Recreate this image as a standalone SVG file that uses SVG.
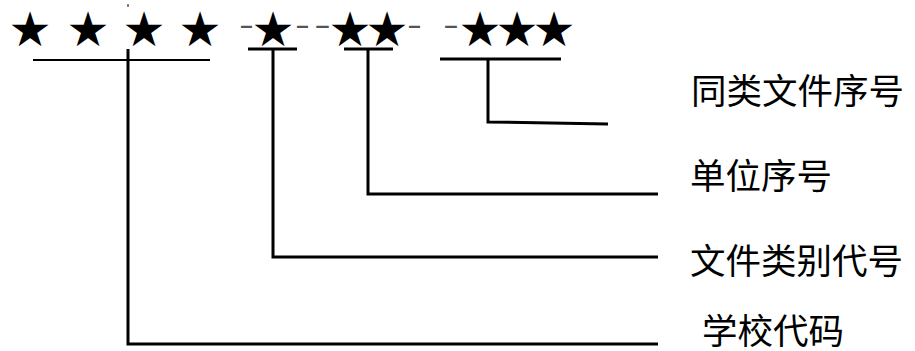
<svg xmlns="http://www.w3.org/2000/svg" width="915" height="351" viewBox="0 0 915 351">
<style>
.star{font-family:"DejaVu Sans",sans-serif;font-size:48px;fill:#000;text-anchor:middle}
.dash{font-family:"Liberation Sans",sans-serif;font-size:30px;fill:#555}
.lbl{font-family:"Liberation Serif","Noto Sans CJK SC",serif;font-size:35.5px;fill:#000}
.ln{fill:none;stroke:#000;stroke-width:3}
</style>
<rect width="915" height="351" fill="#fff"/>
<g id="code">
<text class="star" x="30" y="46">★</text>
<text class="star" x="88" y="46">★</text>
<text class="star" x="144" y="46">★</text>
<text class="star" x="200" y="46">★</text>
<text class="dash" x="239" y="35" textLength="15" lengthAdjust="spacingAndGlyphs">-</text>
<text class="star" x="273" y="46">★</text>
<text class="dash" x="295" y="35" textLength="15" lengthAdjust="spacingAndGlyphs">-</text>
<text class="dash" x="314" y="35" textLength="17" lengthAdjust="spacingAndGlyphs">-</text>
<text class="star" x="350" y="46">★</text>
<text class="star" x="387" y="46">★</text>
<text class="dash" x="407" y="35" textLength="15" lengthAdjust="spacingAndGlyphs">-</text>
<text class="dash" x="443" y="35" textLength="16" lengthAdjust="spacingAndGlyphs">-</text>
<text class="star" x="480" y="46">★</text>
<text class="star" x="517" y="46">★</text>
<text class="star" x="554" y="46">★</text>
</g>
<g id="label-seq"><text class="lbl" x="691" y="104">同类文件序号</text></g>
<g id="label-unit"><text class="lbl" x="690" y="189">单位序号</text></g>
<g id="label-type"><text class="lbl" x="690" y="274">文件类别代号</text></g>
<g id="label-school"><text class="lbl" x="702" y="344">学校代码</text></g>
<g id="connectors">
<line x1="33" y1="60" x2="210" y2="60" stroke="#000" stroke-width="2"/>
<line x1="128" y1="4" x2="128" y2="7" stroke="#000" stroke-width="1"/>
<polyline class="ln" points="128,49 128,344 658,344"/>
<line class="ln" x1="248" y1="49" x2="297" y2="49"/>
<polyline class="ln" points="273,49 273,257 658,257"/>
<line class="ln" x1="344" y1="49" x2="393" y2="49"/>
<polyline class="ln" points="368,49 368,194 658,194"/>
<line class="ln" x1="440" y1="59" x2="561" y2="59"/>
<polyline class="ln" points="488,59 488,122 608,124"/>
</g>
</svg>
